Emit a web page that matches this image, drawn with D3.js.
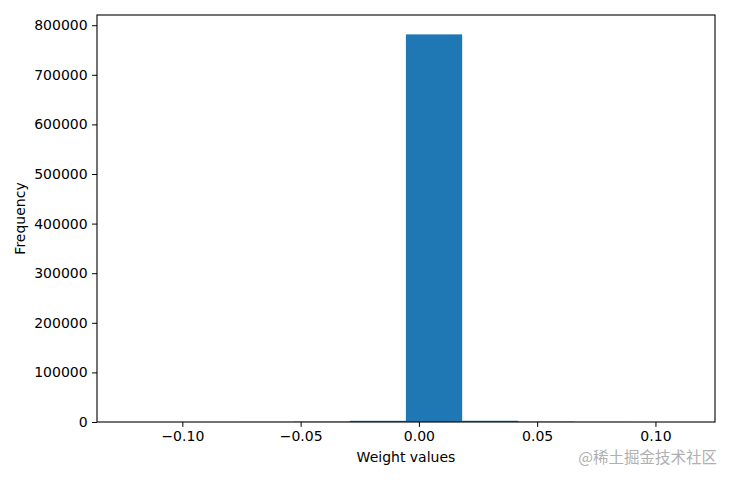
<!DOCTYPE html>
<html><head><meta charset="utf-8">
<script src="https://cdn.jsdelivr.net/npm/d3@7"></script>
<style>body{margin:0;background:#fff}svg{display:block}</style>
</head><body>
<svg id="c" width="730" height="480"></svg>
<script>
const binEdges = [-0.1242, -0.1005, -0.0767, -0.0530, -0.0292, -0.0055, 0.0183, 0.0420, 0.0658, 0.0895, 0.1133];
const counts = [30, 60, 150, 600, 2400, 781500, 2500, 650, 140, 40];
const xTicks = [-0.10, -0.05, 0.00, 0.05, 0.10];
const yTicks = [0, 100000, 200000, 300000, 400000, 500000, 600000, 700000, 800000];

const svg = d3.select("#c");
const m = {l: 97, r: 715, t: 15, b: 422};
const span = binEdges[10] - binEdges[0];
const x = d3.scaleLinear().domain([binEdges[0] - 0.05*span, binEdges[10] + 0.05*span]).range([m.l, m.r]);
const y = d3.scaleLinear().domain([0, d3.max(counts)*1.05]).range([m.b, m.t]);
const font = "DejaVu Sans, sans-serif";

svg.append("g").selectAll("rect").data(counts).join("rect")
  .attr("x", (d,i) => x(binEdges[i]))
  .attr("width", (d,i) => x(binEdges[i+1]) - x(binEdges[i]))
  .attr("y", d => y(d))
  .attr("height", d => m.b - y(d))
  .attr("fill", "#1f77b4");

const xa = svg.append("g").attr("transform", `translate(0,${m.b})`)
  .call(d3.axisBottom(x).tickValues(xTicks).tickFormat(d => d3.format(".2f")(d).replace("-", "\u2212")).tickSize(4.9).tickPadding(4.5));
const ya = svg.append("g").attr("transform", `translate(${m.l},0)`)
  .call(d3.axisLeft(y).tickValues(yTicks).tickFormat(d3.format("d")).tickSize(4.9).tickPadding(4.5));
[xa, ya].forEach(a => {
  a.select(".domain").remove();
  a.selectAll("line").attr("stroke", "#000").attr("stroke-width", 1);
  a.selectAll("text").attr("font-family", font).attr("font-size", 14).attr("fill", "#000");
});

svg.append("rect").attr("x", m.l).attr("y", m.t).attr("width", m.r - m.l).attr("height", m.b - m.t)
  .attr("fill", "none").attr("stroke", "#000").attr("stroke-width", 1.1);

svg.append("text").attr("x", (m.l + m.r)/2).attr("y", 462).attr("text-anchor", "middle")
  .attr("font-family", font).attr("font-size", 14).text("Weight values");
svg.append("text").attr("transform", `translate(25,${(m.t+m.b)/2}) rotate(-90)`).attr("text-anchor", "middle")
  .attr("font-family", font).attr("font-size", 14).text("Frequency");
svg.append("text").attr("x", 717).attr("y", 463).attr("text-anchor", "end")
  .attr("font-family", "Noto Sans CJK SC, sans-serif").attr("font-size", 15.5).attr("fill", "#b0b0b0")
  .text("@稀土掘金技术社区");
</script>
</body></html>
